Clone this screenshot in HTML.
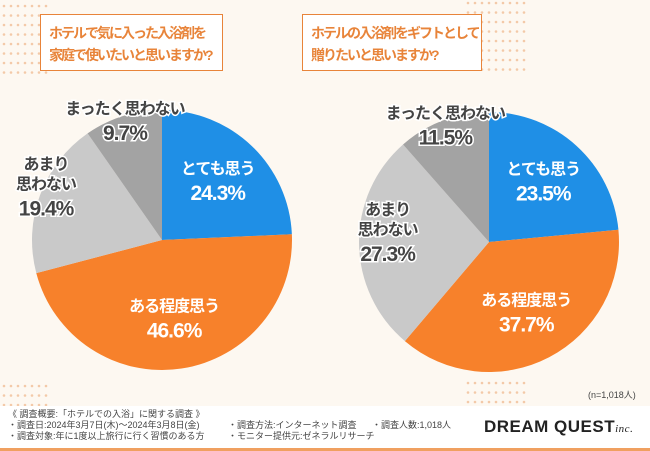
<!DOCTYPE html>
<html><head><meta charset="utf-8">
<style>
body{margin:0;width:650px;height:450px;overflow:hidden;background:#fdf8f1;font-family:"Liberation Sans","Noto Sans CJK JP",sans-serif;}
.q{position:absolute;background:#fff;border:1.5px solid #e8843a;color:#e8843a;font-size:14px;letter-spacing:-2px;font-weight:bold;line-height:22px;padding:7px 8px;box-sizing:border-box;white-space:nowrap;}
.foot{position:absolute;left:0;top:406px;width:650px;height:42px;background:#fff;border-bottom:3px solid #f0a060;}
.ft{position:absolute;font-size:9px;color:#444;line-height:11px;white-space:nowrap;}
</style></head><body>
<svg width="650" height="450" style="position:absolute;left:0;top:0">
<g id="dots" fill="#f3c9a8"></g>
</svg>
<div class="q" style="left:40px;top:14px;width:183px;height:57px">ホテルで気に入った入浴剤を<br>家庭で使いたいと思いますか?</div>
<div class="q" style="left:302px;top:14px;width:180px;height:57px">ホテルの入浴剤をギフトとして<br>贈りたいと思いますか?</div>
<svg id="pies" width="650" height="450" style="position:absolute;left:0;top:0"></svg>
<div class="ft" style="left:588px;top:390px">(n=1,018人)</div>
<div class="foot"></div>
<div class="ft" style="left:8px;top:409px">《 調査概要:「ホテルでの入浴」に関する調査 》<br>・調査日:2024年3月7日(木)〜2024年3月8日(金)<br>・調査対象:年に1度以上旅行に行く習慣のある方</div>
<div class="ft" style="left:228px;top:420px">・調査方法:インターネット調査<br>・モニター提供元:ゼネラルリサーチ</div>
<div class="ft" style="left:372px;top:420px">・調査人数:1,018人</div>
<div style="position:absolute;left:484px;top:417px;font-size:17px;font-weight:bold;color:#222;letter-spacing:0.5px;white-space:nowrap">DREAM QUEST<i style="font-size:11px;font-weight:normal;font-family:'Liberation Serif',serif">inc.</i></div>
<script>
const categories=["とても思う","ある程度思う","あまり思わない","まったく思わない"];
const labels=[["とても思う"],["ある程度思う"],["あまり","思わない"],["まったく思わない"]];
const values1=[24.3,46.6,19.4,9.7];
const values2=[23.5,37.7,27.3,11.5];
const colors=["#1f8fe6","#f7812b","#c9c9c9","#a3a3a3"];
const NS="http://www.w3.org/2000/svg";
const dots=document.getElementById('dots');
function dotGrid(x0,y0,cols,rows){for(let i=0;i<cols;i++)for(let j=0;j<rows;j++){const c=document.createElementNS(NS,'circle');c.setAttribute('cx',x0+i*7);c.setAttribute('cy',y0+j*9.5);c.setAttribute('r',1.3);dots.appendChild(c);}}
dotGrid(4,6,7,8);dotGrid(468,3,9,8);dotGrid(4,386,7,3);dotGrid(468,383,9,3);
const svg=document.getElementById('pies');
function pie(cx,cy,r,vals,idx,lpos){
  const total=vals.reduce((a,b)=>a+b,0);let a0=0;
  vals.forEach((v,i)=>{
    const a1=a0+v/total*Math.PI*2;
    const p=document.createElementNS(NS,'path');
    const x0=cx+r*Math.sin(a0),y0=cy-r*Math.cos(a0),x1=cx+r*Math.sin(a1),y1=cy-r*Math.cos(a1);
    p.setAttribute('d',`M${cx},${cy}L${x0},${y0}A${r},${r} 0 ${a1-a0>Math.PI?1:0} 1 ${x1},${y1}Z`);
    p.setAttribute('fill',colors[i]);
    
    
    svg.appendChild(p);
    const mid=(a0+a1)/2;const d=lpos[i];
    const lx=cx+d*r*Math.sin(mid),ly=cy-d*r*Math.cos(mid);
    const dark=i>=2;
    const t=document.createElementNS(NS,'text');
    t.setAttribute('text-anchor','middle');
    t.setAttribute('font-weight','bold');
    t.setAttribute('paint-order','stroke');
    t.setAttribute('stroke',dark?'#fff':colors[i]);
    t.setAttribute('stroke-width',3);
    t.setAttribute('fill',dark?'#444':'#fff');
    
    
    const lines=labels[i];
    const n=lines.length;
    lines.forEach((s,k)=>{const ts=document.createElementNS(NS,'tspan');ts.setAttribute('x',lx);ts.setAttribute('y',ly-8-(n-1-k)*20);ts.setAttribute('font-size',16);ts.setAttribute('letter-spacing',-1);ts.textContent=s;t.appendChild(ts);});
    const pv=document.createElementNS(NS,'tspan');pv.setAttribute('x',lx);pv.setAttribute('y',ly+18);pv.setAttribute('font-size',21);pv.setAttribute('letter-spacing',-1);pv.textContent=v.toFixed(1)+'%';t.appendChild(pv);
    svg.appendChild(t);
    a0=a1;
  });
}
pie(162,240,130,values1,1,[0.62,0.62,0.95,0.95]);
pie(489,242,130,values2,2,[0.62,0.62,0.78,0.95]);
</script>
</body></html>
